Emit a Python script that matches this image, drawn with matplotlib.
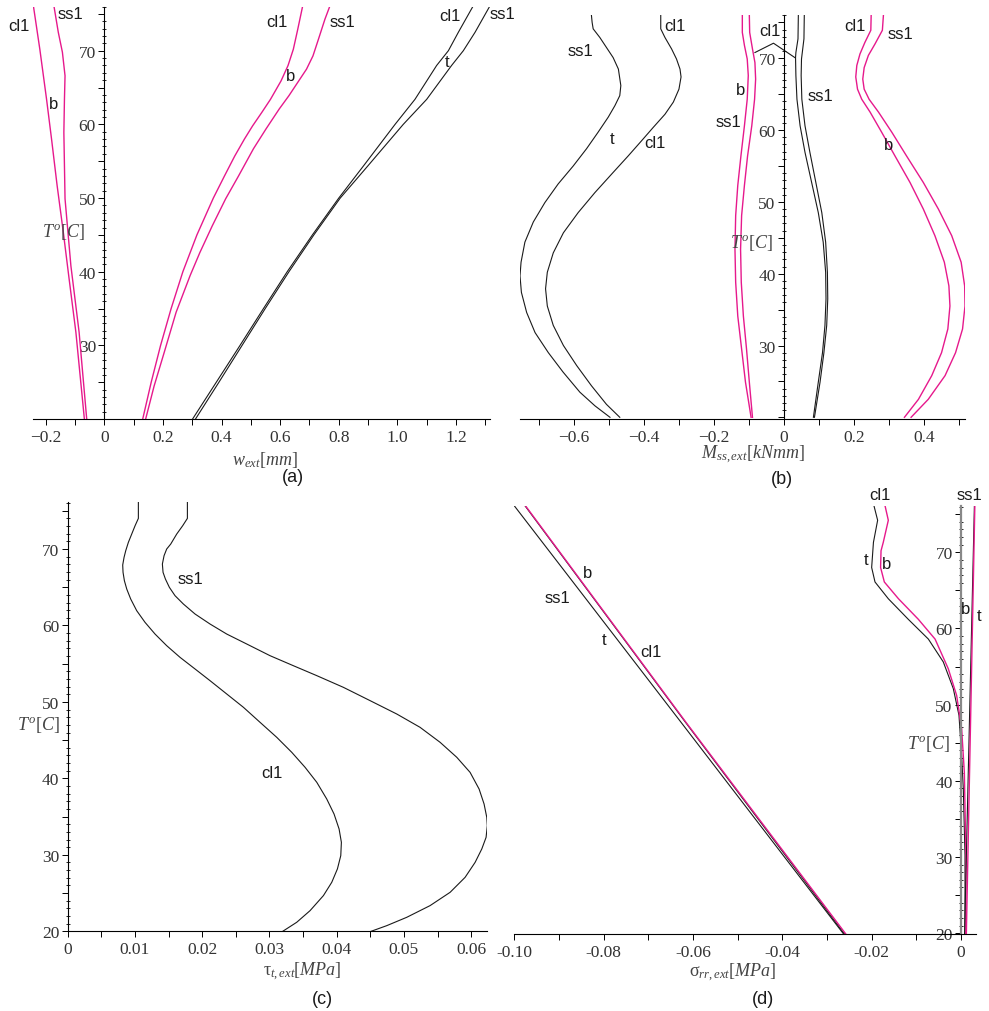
import numpy as np
import matplotlib
matplotlib.use('Agg')
import matplotlib.pyplot as plt
from matplotlib.ticker import MultipleLocator, FixedLocator, FuncFormatter

plt.rcParams['mathtext.fontset'] = 'custom'
plt.rcParams['mathtext.rm'] = 'Liberation Serif'
plt.rcParams['mathtext.it'] = 'Liberation Serif:italic'
plt.rcParams['font.family'] = ['Liberation Sans', 'DejaVu Sans']

MAG = '#e6198c'
BLK = '#1a1a1a'

# ---------------- (a) w_ext ----------------
a1_cl1_T = [76.1, 70.2, 63.4, 58.0, 51.7, 45.4, 39.0, 31.8, 20.0]
a1_cl1_w = [-0.242, -0.220, -0.197, -0.180, -0.161, -0.140, -0.120, -0.097, -0.068]
a1_ss1_T = [76.1, 72.5, 69.8, 66.6, 63.4, 58.9, 49.9, 40.8, 31.8, 20.0]
a1_ss1_w = [-0.172, -0.157, -0.143, -0.134, -0.136, -0.138, -0.134, -0.114, -0.086, -0.060]
a2_cl1_T = [76.1, 72.9, 70.2, 68.0, 65.9, 63.4, 61.6, 59.8, 58.0, 55.7, 53.0, 50.0, 45.0, 40.0, 35.0, 30.0, 25.0, 20.0]
a2_cl1_w = [0.677, 0.660, 0.645, 0.627, 0.603, 0.567, 0.537, 0.506, 0.478, 0.445, 0.410, 0.372, 0.316,
            0.268, 0.228, 0.192, 0.160, 0.131]
a2_ss1_T = [76.1, 74.3, 73.2, 71.6, 69.3, 67.5, 65.7, 63.9, 62.1, 59.4, 56.7, 53.0, 49.9, 46.2, 42.6,
            39.5, 34.5, 29.0, 24.5, 20.0]
a2_ss1_w = [0.770, 0.753, 0.744, 0.731, 0.712, 0.690, 0.660, 0.630, 0.597, 0.552, 0.509, 0.458, 0.414,
            0.368, 0.326, 0.293, 0.245, 0.204, 0.170, 0.141]
a3_cl1_T = [76.1, 72.5, 70.0, 68.0, 63.4, 60.0, 54.4, 50.0, 45.0, 40.0, 35.0, 30.0, 25.0, 20.0]
a3_cl1_w = [1.259, 1.208, 1.174, 1.134, 1.060, 0.992, 0.885, 0.800, 0.710, 0.624, 0.543, 0.463, 0.382, 0.301]
a3_ss1_T = [76.1, 72.5, 70.0, 68.0, 63.4, 60.0, 54.4, 50.0, 45.0, 40.0, 35.0, 30.0, 25.0, 20.0]
a3_ss1_w = [1.316, 1.265, 1.225, 1.185, 1.100, 1.020, 0.900, 0.805, 0.715, 0.630, 0.549, 0.470, 0.391, 0.311]

# ---------------- (b) M_ss,ext ----------------
b1_ss1_T = [76.0, 75.0, 74.1, 72.9, 71.5, 70.1, 68.5, 66.2, 64.8, 63.4, 61.8, 59.7, 57.4, 55.0, 52.5,
            49.9, 47.2, 44.4, 41.6, 39.7, 37.4, 34.6, 31.8, 29.0, 26.3, 23.5, 21.6, 20.0]
b1_ss1_M = [-0.550, -0.548, -0.545, -0.526, -0.507, -0.488, -0.473, -0.466, -0.469, -0.483, -0.502,
            -0.531, -0.564, -0.602, -0.645, -0.683, -0.716, -0.740, -0.751, -0.754, -0.750, -0.735,
            -0.711, -0.673, -0.631, -0.583, -0.540, -0.497]
b1_cl1_T = [76.0, 74.1, 72.9, 71.3, 69.9, 68.5, 67.4, 65.7, 63.9, 62.2, 60.4, 58.5, 56.4, 54.1, 51.3,
            48.5, 45.7, 42.9, 40.2, 37.9, 35.5, 32.8, 30.0, 27.2, 24.4, 21.8, 20.0]
b1_cl1_M = [-0.352, -0.352, -0.340, -0.321, -0.307, -0.297, -0.294, -0.300, -0.316, -0.340, -0.373,
            -0.407, -0.445, -0.488, -0.540, -0.588, -0.630, -0.659, -0.676, -0.681, -0.676, -0.659,
            -0.630, -0.592, -0.550, -0.507, -0.469]
b2_ss1_T = [76.0, 73.6, 71.8, 69.9, 67.6, 64.3, 60.6, 56.4, 52.3, 48.1, 43.4, 38.8, 34.1, 29.5, 24.9, 20.0]
b2_ss1_M = [-0.119, -0.119, -0.113, -0.105, -0.102, -0.105, -0.113, -0.123, -0.132, -0.138, -0.140,
            -0.138, -0.132, -0.121, -0.110, -0.094]
b2_cl1_T = [76.0, 73.6, 71.3, 69.4, 67.1, 64.3, 60.6, 56.4, 52.3, 48.1, 43.4, 38.8, 34.1, 29.5, 24.9, 20.0]
b2_cl1_M = [-0.099, -0.098, -0.090, -0.083, -0.081, -0.084, -0.092, -0.104, -0.113, -0.121, -0.124,
            -0.122, -0.116, -0.107, -0.099, -0.090]
b3_cl1_T = [76.0, 72.7, 70.8, 70.1, 67.6, 64.3, 60.6, 56.9, 52.7, 48.5, 44.4, 40.2, 36.5, 32.8, 29.0, 24.9, 20.0]
b3_cl1_M = [0.041, 0.040, 0.034, 0.033, 0.034, 0.037, 0.046, 0.060, 0.079, 0.098, 0.112, 0.119, 0.120,
            0.117, 0.110, 0.098, 0.084]
b3_ss1_T = [76.0, 72.7, 69.9, 67.6, 64.3, 60.6, 56.9, 52.7, 48.5, 44.4, 40.2, 36.5, 32.8, 29.0, 24.9, 20.0]
b3_ss1_M = [0.058, 0.057, 0.050, 0.049, 0.051, 0.060, 0.074, 0.091, 0.108, 0.119, 0.124, 0.125, 0.122,
            0.114, 0.103, 0.087]
b4_cl1_T = [76.0, 73.9, 72.2, 70.6, 69.0, 67.4, 65.7, 64.3, 62.5, 59.7, 56.4, 52.7, 49.0, 45.3, 41.6,
            38.3, 35.5, 32.3, 29.0, 25.8, 22.5, 20.0]
b4_cl1_M = [0.249, 0.248, 0.231, 0.217, 0.208, 0.205, 0.210, 0.222, 0.246, 0.279, 0.317, 0.360, 0.398,
            0.431, 0.458, 0.471, 0.474, 0.468, 0.450, 0.422, 0.384, 0.344]
b4_ss1_T = [76.0, 73.9, 72.0, 70.4, 68.7, 67.1, 65.7, 64.3, 62.5, 59.7, 56.4, 52.7, 49.0, 45.3, 41.6,
            38.3, 35.5, 32.3, 29.0, 25.8, 22.5, 20.0]
b4_ss1_M = [0.284, 0.281, 0.260, 0.241, 0.229, 0.225, 0.229, 0.243, 0.270, 0.308, 0.350, 0.398, 0.441,
            0.479, 0.506, 0.516, 0.517, 0.510, 0.490, 0.460, 0.412, 0.363]

# ---------------- (c) tau_t,ext ----------------
c_cl1_T = [76.10, 74.01, 73.05, 71.96, 70.87, 69.78, 68.91, 67.91, 66.95, 65.86, 64.77, 63.46, 61.94,
           60.41, 58.88, 57.36, 55.83, 54.31, 52.78, 51.04, 49.30, 47.33, 45.37, 43.41, 41.45, 39.49,
           37.31, 35.34, 33.38, 31.64, 29.90, 28.16, 26.41, 24.67, 22.70, 21.18, 20.00]
c_cl1_tau = [0.01051, 0.01051, 0.01002, 0.00952, 0.00902, 0.00863, 0.00838, 0.00818, 0.00823, 0.00843,
             0.00878, 0.00937, 0.01026, 0.01150, 0.01299, 0.01472, 0.01671, 0.01894, 0.02117, 0.02365,
             0.02613, 0.02861, 0.03109, 0.03332, 0.03530, 0.03704, 0.03852, 0.03961, 0.04036, 0.04070,
             0.04061, 0.04011, 0.03927, 0.03803, 0.03604, 0.03406, 0.03198]
c_ss1_T = [76.10, 74.01, 73.05, 71.96, 70.65, 70.00, 69.13, 68.04, 66.95, 66.08, 64.99, 63.90, 62.81,
           61.50, 60.19, 58.88, 57.58, 56.05, 54.74, 53.44, 51.91, 50.17, 48.42, 46.68, 44.72, 42.76,
           40.79, 38.61, 36.65, 34.91, 33.82, 32.29, 30.77, 29.02, 27.06, 25.10, 23.36, 21.83, 20.74, 20.00]
c_ss1_tau = [0.01780, 0.01780, 0.01710, 0.01621, 0.01532, 0.01472, 0.01433, 0.01408, 0.01418, 0.01453,
             0.01512, 0.01596, 0.01720, 0.01894, 0.02117, 0.02365, 0.02662, 0.03009, 0.03356, 0.03704,
             0.04100, 0.04497, 0.04894, 0.05240, 0.05538, 0.05786, 0.05984, 0.06118, 0.06192, 0.06232,
             0.06240, 0.06222, 0.06158, 0.06059, 0.05910, 0.05687, 0.05389, 0.05042, 0.04745, 0.04512]

# ---------------- (d) sigma_rr,ext ----------------
d_ss1_T = [76.1, 47.7, 19.9]
d_ss1_t_s = [-0.1000, -0.0627, -0.0263]
d_cl1_T = [76.1, 47.7, 19.9]
d_cl1_t_s = [-0.0976, -0.0617, -0.0261]
d_cl1_b_s = [-0.0975, -0.0616, -0.0258]
d2_cl1_t_T = [76.1, 74.2, 71.3, 68.0, 66.1, 63.9, 61.2, 58.6, 55.6, 52.1, 48.6, 43.3, 38.9, 30.2, 19.9]
d2_cl1_t_s = [-0.01948, -0.01866, -0.0196, -0.0200, -0.01925, -0.01627, -0.0118, -0.0073, -0.00396,
              -0.00172, -0.00045, 0.00015, 0.00052, 0.0009, 0.0009]
d2_cl1_b_T = [76.1, 74.2, 71.3, 70.2, 68.0, 66.1, 63.9, 61.2, 58.6, 54.7, 51.2, 46.8, 41.1, 30.2, 19.9]
d2_cl1_b_s = [-0.0170, -0.01627, -0.0174, -0.0179, -0.0180, -0.01716, -0.0140, -0.00955, -0.0058,
              -0.00284, -0.00097, 0.00015, 0.00075, 0.0011, 0.0011]
d2_ss1_T = [19.9, 76.1]
d2_ss1_t_s = [0.0008, 0.0030]
d2_ss1_b_s = [0.0012, 0.0031]

W, H = 989, 1012
TICKFS = 12.5


def make_ax(x0, x1, y_bot, y_top, xlim, ylim):
    # pixel box -> figure fraction
    ax = fig.add_axes([x0 / W, 1 - y_bot / H, (x1 - x0) / W, (y_bot - y_top) / H])
    ax.set_xlim(*xlim)
    ax.set_ylim(*ylim)
    ax.patch.set_alpha(0)
    for s in ['top', 'right']:
        ax.spines[s].set_visible(False)
    ax.spines['left'].set_position(('data', 0))
    ax.spines['left'].set_linewidth(0.8)
    ax.spines['bottom'].set_linewidth(0.8)
    ax.tick_params(axis='both', which='both', labelsize=TICKFS, labelcolor='#333333',
                   width=0.7, labelfontfamily='Liberation Serif')
    ax.tick_params(axis='x', which='both', direction='out', length=4, pad=3)
    ax.tick_params(axis='y', which='major', direction='out', length=4, pad=2)
    ax.tick_params(axis='y', which='minor', direction='inout', length=2.2, width=0.6)
    ax.yaxis.set_major_locator(MultipleLocator(5))
    ax.yaxis.set_minor_locator(MultipleLocator(1))
    return ax


def ylab(show20):
    def f(v, pos):
        v = int(round(v))
        if v % 10 != 0:
            return ''
        if v == 20 and not show20:
            return ''
        return str(v)
    return FuncFormatter(f)


def xfmt(nd, minus='\u2212'):
    def f(v, pos):
        if abs(v) < 1e-9:
            return '0'
        s = ('%.' + str(nd) + 'f') % abs(v)
        return (minus + s) if v < 0 else s
    return FuncFormatter(f)


def lbl(ax, x, y, s):
    ax.text(x, y, s, fontsize=12, color=BLK, ha='center', va='center',
            family='Liberation Sans', clip_on=False)


def tlab(ax, x, y):
    ax.text(x, y, r'$T^{o}[C]$', fontsize=13, color='#444444', ha='center', va='center', clip_on=False)


def figlab(px, py, s, size=13, color='#444444'):
    fig.text(px / W, 1 - py / H, s, fontsize=size, color=color, ha='center', va='center')


fig = plt.figure(figsize=(9.89, 10.12), dpi=100)

# ---- (a)
ax = make_ax(33, 490, 420.1, 7.5, (-0.2433, 1.316), (20, 76))
ax.plot(a1_cl1_w, a1_cl1_T, color=MAG, lw=1)
ax.plot(a1_ss1_w, a1_ss1_T, color=MAG, lw=1)
ax.plot(a2_cl1_w, a2_cl1_T, color=MAG, lw=1)
ax.plot(a2_ss1_w, a2_ss1_T, color=MAG, lw=1)
ax.plot(a3_cl1_w, a3_cl1_T, color=BLK, lw=0.8)
ax.plot(a3_ss1_w, a3_ss1_T, color=BLK, lw=0.8)
ax.xaxis.set_major_locator(FixedLocator([-0.2, 0, 0.2, 0.4, 0.6, 0.8, 1.0, 1.2]))
ax.xaxis.set_major_formatter(xfmt(1))
ax.xaxis.set_minor_locator(MultipleLocator(0.1))
ax.yaxis.set_major_formatter(ylab(False))
lbl(ax, -0.291, 73.4, 'cl1'); lbl(ax, -0.117, 75.0, 'ss1'); lbl(ax, -0.172, 62.9, 'b')
lbl(ax, 0.590, 73.9, 'cl1'); lbl(ax, 0.812, 73.9, 'ss1'); lbl(ax, 0.637, 66.7, 'b')
lbl(ax, 1.180, 74.8, 'cl1'); lbl(ax, 1.357, 75.0, 'ss1'); lbl(ax, 1.170, 68.6, 't')
tlab(ax, -0.141, 45.5)
figlab(265, 460, r'$w_{ext}[mm]$')
figlab(293, 478, '(a)', size=13, color=BLK)

# ---- (b)
ax = make_ax(520, 965, 420.1, 16.2, (-0.754, 0.517), (19.75, 76))
ax.plot(b1_ss1_M, b1_ss1_T, color=BLK, lw=0.8)
ax.plot(b1_cl1_M, b1_cl1_T, color=BLK, lw=0.8)
ax.plot(b2_ss1_M, b2_ss1_T, color=MAG, lw=1)
ax.plot(b2_cl1_M, b2_cl1_T, color=MAG, lw=1)
ax.plot(b3_cl1_M, b3_cl1_T, color=BLK, lw=0.8)
ax.plot(b3_ss1_M, b3_ss1_T, color=BLK, lw=0.8)
ax.plot(b4_cl1_M, b4_cl1_T, color=MAG, lw=1)
ax.plot(b4_ss1_M, b4_ss1_T, color=MAG, lw=1)
ax.plot([-0.083, -0.030, 0.031], [70.8, 72.1, 70.1], color=BLK, lw=0.8)
ax.xaxis.set_major_locator(FixedLocator([-0.6, -0.4, -0.2, 0, 0.2, 0.4]))
ax.xaxis.set_major_formatter(xfmt(1))
ax.xaxis.set_minor_locator(MultipleLocator(0.1))
ax.yaxis.set_major_formatter(ylab(False))
lbl(ax, -0.580, 71.1, 'ss1'); lbl(ax, -0.492, 58.8, 't')
lbl(ax, -0.311, 74.6, 'cl1'); lbl(ax, -0.370, 58.3, 'cl1')
lbl(ax, -0.124, 65.6, 'b'); lbl(ax, -0.159, 61.2, 'ss1')
lbl(ax, -0.040, 73.9, 'cl1'); lbl(ax, 0.105, 64.8, 'ss1')
lbl(ax, 0.203, 74.6, 'cl1'); lbl(ax, 0.333, 73.5, 'ss1'); lbl(ax, 0.300, 58.0, 'b')
tlab(ax, -0.092, 44.4)
figlab(753, 455, r'$M_{ss,ext}[kNmm]$')
figlab(782, 480, '(b)', size=13, color=BLK)

# ---- (c)
ax = make_ax(67.7, 487.3, 932.3, 503.4, (0, 0.0624), (20, 76.1))
ax.plot(c_cl1_tau, c_cl1_T, color=BLK, lw=0.8)
ax.plot(c_ss1_tau, c_ss1_T, color=BLK, lw=0.8)
ax.xaxis.set_major_locator(FixedLocator([0, 0.01, 0.02, 0.03, 0.04, 0.05, 0.06]))
ax.xaxis.set_major_formatter(xfmt(2))
ax.xaxis.set_minor_locator(MultipleLocator(0.005))
ax.yaxis.set_major_formatter(ylab(True))
lbl(ax, 0.0183, 66.2, 'ss1'); lbl(ax, 0.0303, 40.8, 'cl1')
tlab(ax, -0.00436, 47.1)
figlab(302, 972, r'$\mathrm{\tau}_{t,ext}[MPa]$')
figlab(322, 1000, '(c)', size=13, color=BLK)

# ---- (d)
ax = make_ax(514.3, 976, 934.9, 506.8, (-0.1, 0.00336), (19.9, 76.1))
ax.spines['left'].set_color('#888888')
ax.spines['left'].set_linewidth(1.6)
ax.plot(d_ss1_t_s, d_ss1_T, color=BLK, lw=0.8)
ax.plot(d_cl1_t_s, d_cl1_T, color=BLK, lw=0.8)
ax.plot(d_cl1_b_s, d_cl1_T, color=MAG, lw=1)
ax.plot(d2_cl1_t_s, d2_cl1_t_T, color=BLK, lw=0.8)
ax.plot(d2_cl1_b_s, d2_cl1_b_T, color=MAG, lw=1)
ax.plot(d2_ss1_t_s, d2_ss1_T, color=BLK, lw=0.8)
ax.plot(d2_ss1_b_s, d2_ss1_T, color=MAG, lw=1)
ax.xaxis.set_major_locator(FixedLocator([-0.10, -0.08, -0.06, -0.04, -0.02, 0]))
ax.xaxis.set_major_formatter(xfmt(2, '-'))
ax.xaxis.set_minor_locator(MultipleLocator(0.01))
ax.yaxis.set_major_formatter(ylab(True))
lbl(ax, -0.0836, 67.3, 'b'); lbl(ax, -0.0904, 64.0, 'ss1')
lbl(ax, -0.0799, 58.5, 't'); lbl(ax, -0.0695, 57.0, 'cl1')
lbl(ax, -0.0181, 77.6, 'cl1'); lbl(ax, -0.0213, 69.1, 't'); lbl(ax, -0.0166, 68.5, 'b')
lbl(ax, 0.0020, 77.6, 'ss1'); lbl(ax, 0.0011, 62.6, 'b'); lbl(ax, 0.0040, 61.7, 't')
tlab(ax, -0.0073, 45.0)
figlab(733, 973, r'$\mathrm{\sigma}_{rr,ext}[MPa]$')
figlab(763, 1000, '(d)', size=13, color=BLK)

fig.savefig('out.png', dpi=100)
